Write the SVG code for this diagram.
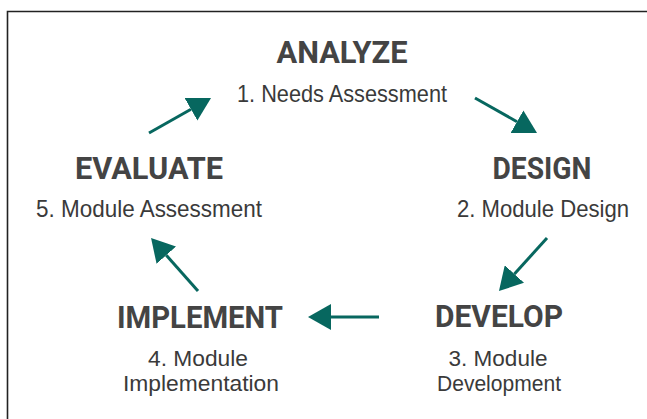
<svg xmlns="http://www.w3.org/2000/svg" width="647" height="419" viewBox="0 0 647 419">
  <style>
    .frame { stroke: #222; stroke-width: 1.6; fill: none; }
    .title { font-family: Roboto, "DejaVu Sans", sans-serif; font-weight: 700; font-size: 32px; fill: #444; text-anchor: middle; }
    .step { font-family: "Liberation Sans", Arial, sans-serif; font-size: 24px; fill: #3a3a3a; text-anchor: middle; }
    .step2 { font-size: 22px; }
    .flow { stroke: #07675f; stroke-width: 3; fill: none; marker-end: url(#head); }
  </style>
  <defs>
    <marker id="head" markerUnits="userSpaceOnUse" viewBox="0 -13 23 26" refX="0" refY="0" markerWidth="23" markerHeight="26" orient="auto">
      <path d="M0,-13 L23,0 L0,13 Z" fill="#07675f"/>
    </marker>
  </defs>

  <rect width="647" height="419" fill="#fff"/>
  <!-- open frame: top and left edges only -->
  <path class="frame" d="M7.5,419 V11.5 H647"/>

  <g id="analyze">
    <text class="title" x="342" y="63" textLength="131" lengthAdjust="spacingAndGlyphs">ANALYZE</text>
    <text class="step" x="342" y="102" textLength="210" lengthAdjust="spacingAndGlyphs">1. Needs Assessment</text>
  </g>

  <g id="design">
    <text class="title" x="542" y="179" textLength="99" lengthAdjust="spacingAndGlyphs">DESIGN</text>
    <text class="step" x="543" y="217" textLength="172" lengthAdjust="spacingAndGlyphs">2. Module Design</text>
  </g>

  <g id="develop">
    <text class="title" x="499" y="327" textLength="128" lengthAdjust="spacingAndGlyphs">DEVELOP</text>
    <text class="step step2" x="498" y="366" textLength="99" lengthAdjust="spacingAndGlyphs">3. Module</text>
    <text class="step step2" x="499" y="391" textLength="124" lengthAdjust="spacingAndGlyphs">Development</text>
  </g>

  <g id="implement">
    <text class="title" x="200" y="328" textLength="166" lengthAdjust="spacingAndGlyphs">IMPLEMENT</text>
    <text class="step step2" x="198" y="366" textLength="100" lengthAdjust="spacingAndGlyphs">4. Module</text>
    <text class="step step2" x="201" y="391" textLength="156" lengthAdjust="spacingAndGlyphs">Implementation</text>
  </g>

  <g id="evaluate">
    <text class="title" x="149" y="179" textLength="148" lengthAdjust="spacingAndGlyphs">EVALUATE</text>
    <text class="step" x="149" y="217" textLength="226" lengthAdjust="spacingAndGlyphs">5. Module Assessment</text>
  </g>

  <g id="connectors">
    <line class="flow" x1="149" y1="133" x2="191" y2="109.3"/>
    <line class="flow" x1="475" y1="98" x2="517" y2="121.7"/>
    <line class="flow" x1="547" y1="238" x2="514.4" y2="274"/>
    <line class="flow" x1="379" y1="317" x2="331" y2="317"/>
    <line class="flow" x1="198" y1="291" x2="166.3" y2="255.2"/>
  </g>
</svg>
